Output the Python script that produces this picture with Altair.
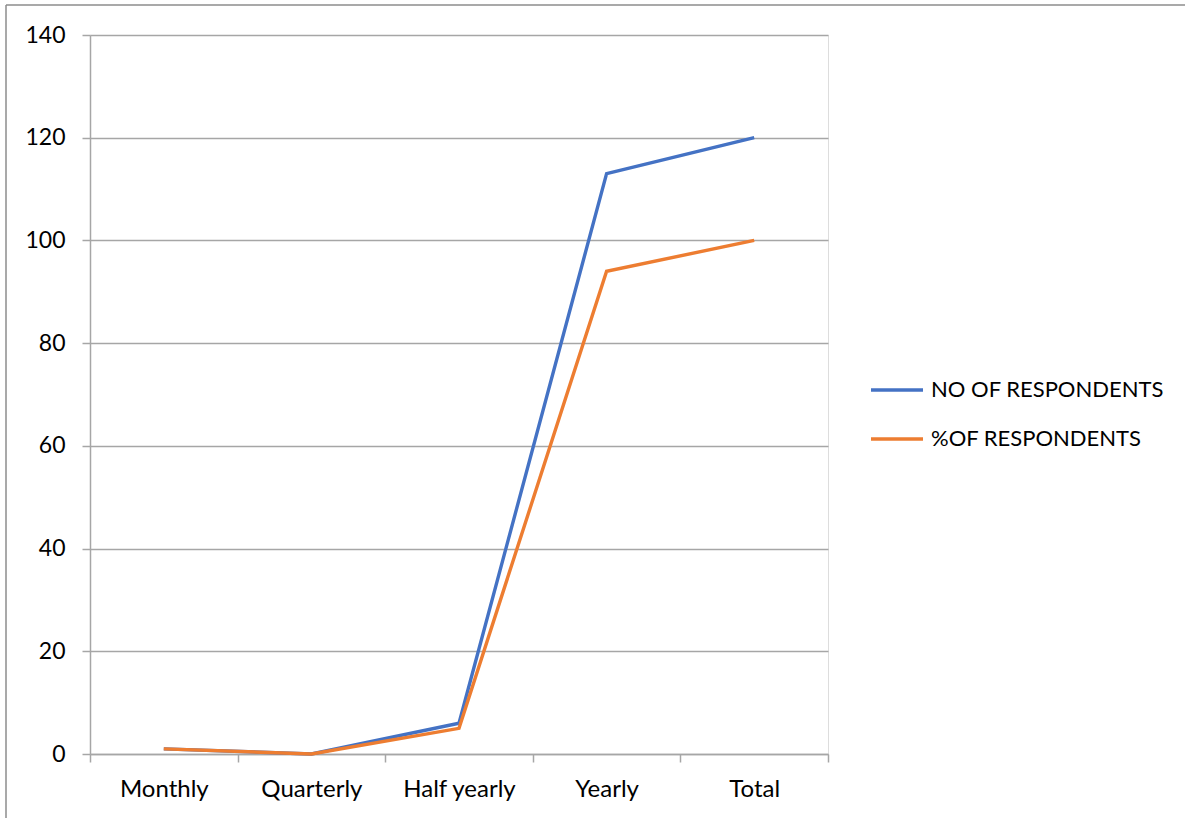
import altair as alt
import pandas as pd

# Survey frequency categories and the two response series
categories = ["Monthly", "Quarterly", "Half yearly", "Yearly", "Total"]
no_of_respondents = [1, 0, 6, 113, 120]
pct_of_respondents = [1, 0, 5, 94, 100]
series_names = ["NO OF RESPONDENTS", "%OF RESPONDENTS"]
series_colors = ["#4472C4", "#ED7D31"]
y_ticks = [0, 20, 40, 60, 80, 100, 120, 140]

rows = []
for name, values in zip(series_names, [no_of_respondents, pct_of_respondents]):
    for cat, v in zip(categories, values):
        rows.append({"category": cat, "series": name, "value": v})
df = pd.DataFrame(rows)

FONT = "Lato"
GRID = "#a6a6a6"

lines = alt.Chart(df).mark_line(strokeWidth=3.4, strokeJoin="miter").encode(
    x=alt.X(
        "category:N",
        sort=categories,
        scale=alt.Scale(paddingInner=0, paddingOuter=0),
        axis=alt.Axis(
            title=None,
            labelAngle=0,
            labelFont=FONT,
            labelFontSize=24,
            labelColor="#000000",
            labelPadding=15,
            tickBand="extent",
            tickSize=8,
            tickColor=GRID,
            domainColor=GRID,
            domainWidth=1.5,
            tickWidth=1.5,
            grid=False,
        ),
    ),
    y=alt.Y(
        "value:Q",
        scale=alt.Scale(domain=[0, 140], nice=False),
        axis=alt.Axis(
            title=None,
            values=y_ticks,
            labelFont=FONT,
            labelFontSize=23,
            labelColor="#000000",
            labelPadding=17,
            tickSize=8,
            tickColor=GRID,
            tickWidth=1.5,
            domainColor=GRID,
            domainWidth=1.5,
            gridColor=GRID,
            gridWidth=1.5,
        ),
    ),
    color=alt.Color(
        "series:N",
        sort=series_names,
        scale=alt.Scale(domain=series_names, range=series_colors),
        legend=alt.Legend(
            title=None,
            orient="none",
            legendX=779,
            legendY=327,
            symbolType="stroke",
            symbolSize=2704,
            symbolStrokeWidth=3.4,
            labelFont=FONT,
            labelFontSize=22,
            labelLimit=400,
            labelColor="#000000",
            labelOffset=6,
            rowPadding=10,
        ),
    ),
)

# Outer frame of the chart: top and left edges
frame_df = pd.DataFrame({"k": [0]})
top_edge = alt.Chart(frame_df).mark_rule(color="#8c8c8c", strokeWidth=1.5).encode(
    x=alt.value(-84), x2=alt.value(1095), y=alt.value(-30)
)
left_edge = alt.Chart(frame_df).mark_rule(color="#8c8c8c", strokeWidth=1.5).encode(
    x=alt.value(-84), y=alt.value(-30), y2=alt.value(783)
)

chart = alt.layer(lines, top_edge, left_edge).properties(
    width=738,
    height=719,
    autosize=alt.AutoSizeParams(type="none"),
    padding={"left": 90, "top": 35, "right": 357, "bottom": 64},
).configure_view(stroke=None).configure(background="#ffffff")

chart.save("out.html", embed_options={"renderer": "svg", "actions": False})
